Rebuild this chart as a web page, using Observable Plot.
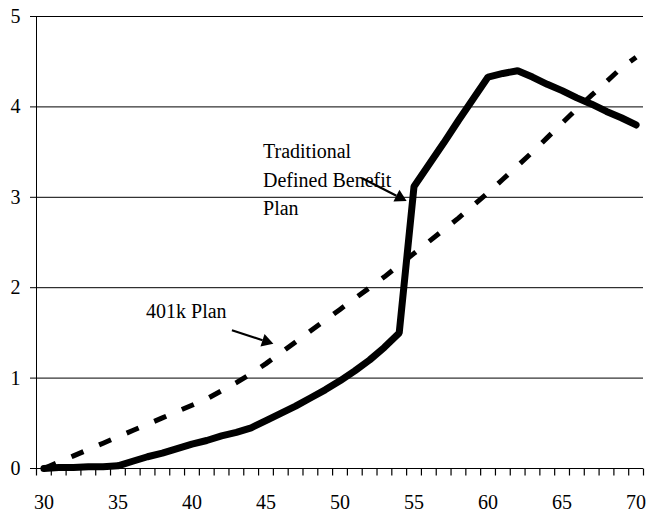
<!DOCTYPE html>
<html>
<head>
<meta charset="utf-8">
<script src="https://cdn.jsdelivr.net/npm/d3@7"></script>
<script src="https://cdn.jsdelivr.net/npm/@observablehq/plot@0.6"></script>
<style>
  html, body { margin: 0; padding: 0; background: #fff; }
  svg { display: block; }
</style>
</head>
<body>
<div id="chart"></div>
<script>
const ages = d3.range(30, 71);
const dbValues = [
  0.00, 0.01, 0.01, 0.02, 0.02, 0.03, 0.08, 0.13, 0.17, 0.22,
  0.27, 0.31, 0.36, 0.40, 0.45, 0.53, 0.61, 0.69, 0.78, 0.87,
  0.97, 1.08, 1.20, 1.34, 1.50, 3.12, 3.36, 3.60, 3.85, 4.09,
  4.33, 4.37, 4.40, 4.33, 4.25, 4.18, 4.10, 4.03, 3.95, 3.88,
  3.80
];
const k401Values = [
  0.00, 0.07, 0.14, 0.21, 0.28, 0.35, 0.42, 0.49, 0.56, 0.63,
  0.70, 0.77, 0.86, 0.95, 1.05, 1.16, 1.28, 1.40, 1.52, 1.64,
  1.76, 1.88, 2.00, 2.12, 2.25, 2.38, 2.51, 2.64, 2.77, 2.91,
  3.05, 3.20, 3.35, 3.50, 3.66, 3.82, 3.98, 4.13, 4.28, 4.43,
  4.55
];
const xTickLabels = [30, 35, 40, 45, 50, 55, 60, 65, 70];
const yTicks = [0, 1, 2, 3, 4, 5];
const gridValues = [1, 2, 3, 4, 5];
const xBoundaries = d3.range(29.5, 71, 1);

const labelTexts = [
  {x: 36.9, y: 1.74, text: "401k Plan"},
  {x: 44.8, y: 3.51, text: "Traditional"},
  {x: 44.8, y: 3.18, text: "Defined Benefit"},
  {x: 44.8, y: 2.87, text: "Plan"}
];
const arrows = [
  {x1: 42.7, y1: 1.53, x2: 45.5, y2: 1.38},
  {x1: 51.5, y1: 3.21, x2: 54.5, y2: 2.96}
];

const db = ages.map((a, i) => ({age: a, value: dbValues[i]}));
const k401 = ages.map((a, i) => ({age: a, value: k401Values[i]}));

const W = 651, H = 518, mL = 36, mR = 8, mT = 16, mB = 50;
const xDomain = [29.5, 70.5], yDomain = [0, 5];
const xs = Plot.scale({x: {domain: xDomain, range: [mL, W - mR]}});
const ys = Plot.scale({y: {domain: yDomain, range: [H - mB, mT]}});
const tickBottom = ys.invert(H - mB + 7);
const xTickData = xBoundaries.map(b => ({x: b, y1: 0, y2: tickBottom}));

// arrowhead geometry (filled triangle whose tip sits at x2,y2)
const headR = 4.9;
const unitY = Math.sqrt(Math.PI * headR * headR / (3 * Math.sqrt(3)));
const heads = arrows.map(a => {
  const px1 = xs.apply(a.x1), py1 = ys.apply(a.y1);
  const px2 = xs.apply(a.x2), py2 = ys.apply(a.y2);
  const ang = Math.atan2(py2 - py1, px2 - px1);
  const cx = px2 - Math.cos(ang) * 2 * unitY, cy = py2 - Math.sin(ang) * 2 * unitY;
  const bx = px2 - Math.cos(ang) * 3 * unitY, by = py2 - Math.sin(ang) * 3 * unitY;
  return {
    x1: a.x1, y1: a.y1,
    bx: xs.invert(bx), by: ys.invert(by),
    cx: xs.invert(cx), cy: ys.invert(cy),
    rot: ang * 180 / Math.PI + 90
  };
});

const font = "'Liberation Serif', 'Times New Roman', serif";

const chart = Plot.plot({
  width: W,
  height: H,
  marginLeft: mL,
  marginRight: mR,
  marginTop: mT,
  marginBottom: mB,
  style: {fontFamily: font, fontSize: "20px", color: "#000", background: "#fff", overflow: "visible"},
  x: {domain: xDomain},
  y: {domain: yDomain},
  marks: [
    Plot.ruleY(gridValues, {stroke: "#000", strokeWidth: 1}),
    Plot.axisY({ticks: yTicks, tickSize: 6, tickPadding: 10, label: null, fontSize: 20, fontFamily: font, stroke: "#000", strokeOpacity: 1, tickFormat: d => String(d)}),
    Plot.link(xTickData, {x1: "x", x2: "x", y1: "y1", y2: "y2", stroke: "#000", strokeWidth: 1.2, strokeOpacity: 1}),
    Plot.axisX({ticks: xTickLabels, tickSize: 0, tickPadding: 26, label: null, fontSize: 20, fontFamily: font, tickFormat: d => String(d)}),
    Plot.ruleX([29.5], {stroke: "#000", strokeWidth: 1}),
    Plot.ruleY([0], {stroke: "#000", strokeWidth: 1}),
    Plot.line(k401, {x: "age", y: "value", stroke: "#000", strokeWidth: 5, strokeDasharray: "13,17", strokeLinecap: "butt"}),
    Plot.line(db, {x: "age", y: "value", stroke: "#000", strokeWidth: 7, strokeLinejoin: "miter", strokeLinecap: "round"}),
    Plot.link(heads, {x1: "x1", y1: "y1", x2: "bx", y2: "by", stroke: "#000", strokeWidth: 2.2}),
    Plot.dot(heads, {x: "cx", y: "cy", r: headR, symbol: "triangle", rotate: "rot", fill: "#000", stroke: "none"}),
    Plot.text(labelTexts, {x: "x", y: "y", text: "text", textAnchor: "start", lineAnchor: "middle", fontSize: 20, fontFamily: font, fill: "#000"})
  ]
});
document.getElementById("chart").appendChild(chart);
</script>
</body>
</html>
